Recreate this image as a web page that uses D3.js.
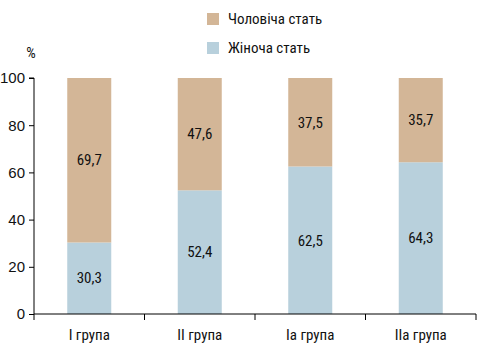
<!DOCTYPE html>
<html>
<head>
<meta charset="utf-8">
<script src="https://cdn.jsdelivr.net/npm/d3@7"></script>
<style>
  body { margin: 0; background: #fff; }
  svg { display: block; font-family: "Liberation Sans Narrow", "Roboto Condensed", "Liberation Sans", sans-serif; }
</style>
</head>
<body>
<div id="chart"></div>
<script>
const width = 478;
const height = 354;
const marginTop = 78;
const marginRight = 2;
const marginBottom = 40;
const marginLeft = 34;

const groups = ["I група", "II група", "Ia група", "IIa група"];
const female = [30.3, 52.4, 62.5, 64.3];
const male = [69.7, 47.6, 37.5, 35.7];
const yTicks = [0, 20, 40, 60, 80, 100];
const seriesNames = ["Чоловіча стать", "Жіноча стать"];

const colorMale = "#d3b697";
const colorFemale = "#b8d0dc";
const fontSize = 15;

const data = groups.map((g, i) => ({ group: g, female: female[i], male: male[i] }));

const svg = d3.select("#chart")
    .append("svg")
    .attr("width", width)
    .attr("height", height)
    .attr("viewBox", [0, 0, width, height]);

const x = d3.scaleBand()
    .domain(groups)
    .range([marginLeft, width - marginRight])
    .paddingInner(0)
    .paddingOuter(0);

const y = d3.scaleLinear()
    .domain([0, 100])
    .range([height - marginBottom, marginTop]);

const barW = 44;
const barX = d => x(d.group) + (x.bandwidth() - barW) / 2;

// female (bottom)
svg.append("g")
    .selectAll()
    .data(data)
    .join("rect")
    .attr("x", barX)
    .attr("width", barW)
    .attr("y", d => y(d.female))
    .attr("height", d => y(0) - y(d.female))
    .attr("fill", colorFemale);

// male (top)
svg.append("g")
    .selectAll()
    .data(data)
    .join("rect")
    .attr("x", barX)
    .attr("width", barW)
    .attr("y", d => y(d.female + d.male))
    .attr("height", d => y(d.female) - y(d.female + d.male))
    .attr("fill", colorMale);

const fmt = v => v.toFixed(1).replace(".", ",");

// value labels
svg.append("g")
    .attr("text-anchor", "middle")
    .attr("font-size", fontSize)
    .attr("fill", "#111")
    .selectAll()
    .data(data)
    .join("text")
    .attr("x", d => x(d.group) + x.bandwidth() / 2)
    .attr("y", d => y(d.female / 2))
    .attr("dy", "0.35em")
    .text(d => fmt(d.female));

svg.append("g")
    .attr("text-anchor", "middle")
    .attr("font-size", fontSize)
    .attr("fill", "#111")
    .selectAll()
    .data(data)
    .join("text")
    .attr("x", d => x(d.group) + x.bandwidth() / 2)
    .attr("y", d => y(d.female + d.male / 2))
    .attr("dy", "0.35em")
    .text(d => fmt(d.male));

// y axis
svg.append("g")
    .attr("transform", `translate(${marginLeft},0)`)
    .call(d3.axisLeft(y).tickValues(yTicks).tickSize(5).tickPadding(4).tickFormat(d3.format("d")))
    .call(g => g.select(".domain").attr("d", `M-5,${y(100)}H0V${y(0)}`).attr("stroke", "#000"))
    .call(g => g.selectAll("text").attr("font-size", fontSize).attr("fill", "#111").style("font-family", "inherit"));

// x axis
const xAxis = svg.append("g")
    .attr("transform", `translate(0,${y(0)})`);
xAxis.append("path")
    .attr("d", `M${marginLeft},0H${width - marginRight}`)
    .attr("stroke", "#000");
const bounds = groups.map(g => x(g)).concat([x.range()[1]]);
xAxis.selectAll(".tk")
    .data(bounds)
    .join("line")
    .attr("x1", d => d).attr("x2", d => d)
    .attr("y1", 0).attr("y2", 6)
    .attr("stroke", "#000");
xAxis.selectAll(".lbl")
    .data(groups)
    .join("text")
    .attr("x", d => x(d) + x.bandwidth() / 2)
    .attr("y", 21)
    .attr("dy", "0.35em")
    .attr("text-anchor", "middle")
    .attr("font-size", fontSize)
    .attr("fill", "#111")
    .text(d => d);

// % label
svg.append("text")
    .attr("x", 31)
    .attr("y", 53)
    .attr("dy", "0.35em")
    .attr("text-anchor", "middle")
    .attr("font-size", fontSize)
    .attr("fill", "#111")
    .text("%");

// legend
const legend = svg.append("g").attr("transform", "translate(207,13)");
[colorMale, colorFemale].forEach((c, i) => {
    legend.append("rect")
        .attr("x", 0).attr("y", i * 29)
        .attr("width", 12).attr("height", 12)
        .attr("fill", c);
    legend.append("text")
        .attr("x", 21).attr("y", i * 29 + 6)
        .attr("dy", "0.35em")
        .attr("font-size", fontSize)
        .attr("fill", "#111")
        .text(seriesNames[i]);
});
</script>
</body>
</html>
